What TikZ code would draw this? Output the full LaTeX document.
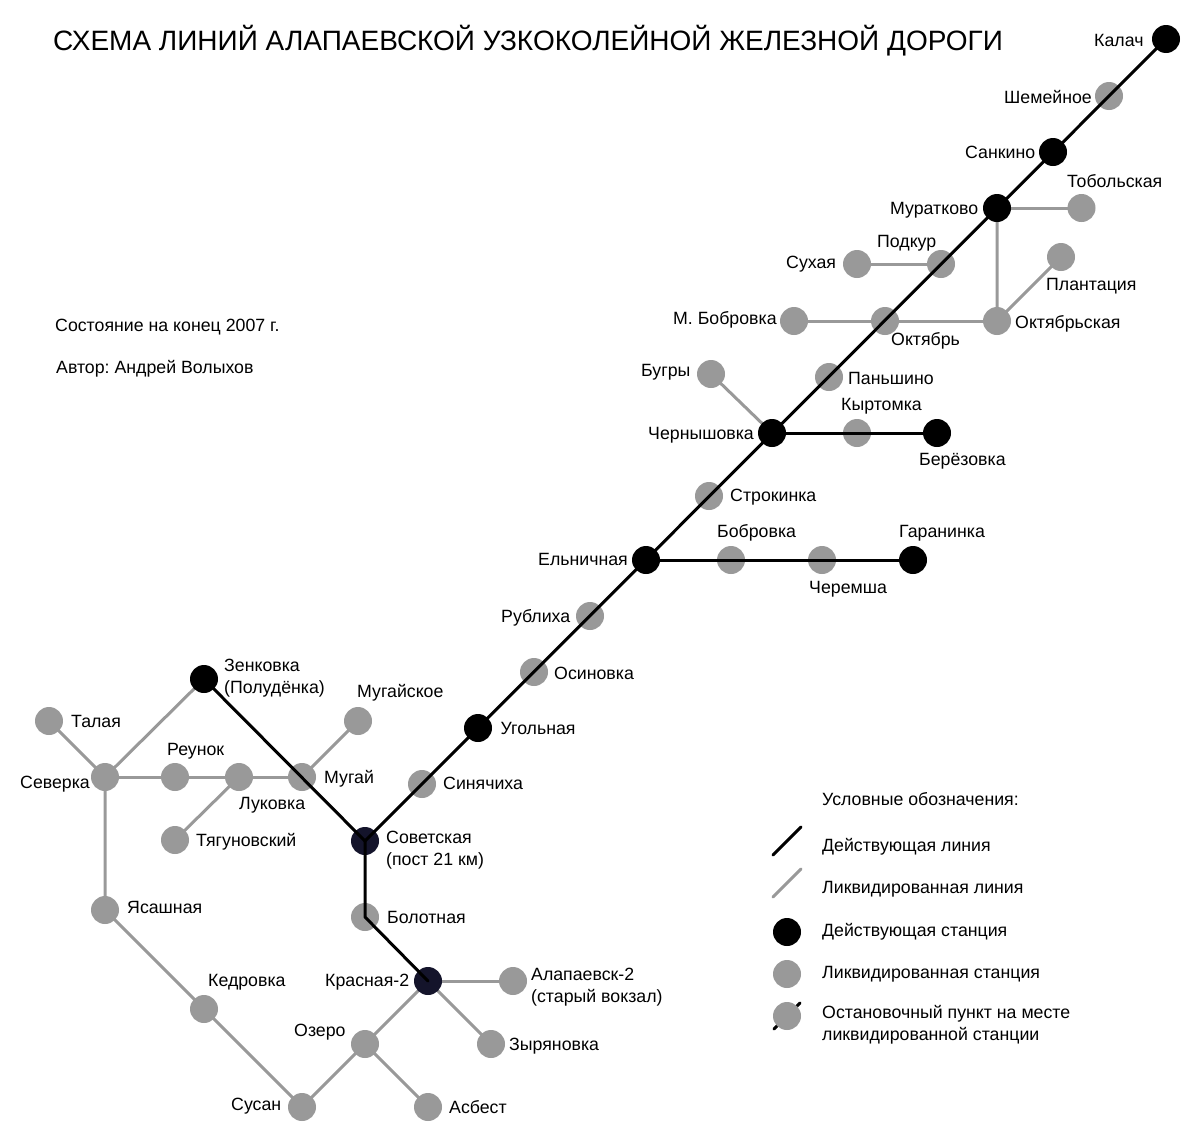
\documentclass[tikz,border=0pt]{standalone}
\usepackage{fontspec}
\setmainfont{Liberation Sans}
\frenchspacing
\pgfdeclarelayer{back}
\pgfdeclarelayer{front}
\pgfsetlayers{back,main,front}
\definecolor{closedgrey}{HTML}{999999}
\definecolor{junctiondark}{HTML}{14142B}
\tikzset{
  activestn/.style={circle,fill=black,inner sep=0pt,minimum size=14pt},
  closedstn/.style={circle,fill=closedgrey,inner sep=0pt,minimum size=14pt},
  junctionstn/.style={circle,fill=junctiondark,inner sep=0pt,minimum size=14pt},
  twolbl/.style={anchor=west,inner sep=0pt,align=left,xshift=-0.1pt,font=\fontsize{8.87pt}{11pt}\selectfont},
  lbl/.style={twolbl,text height=6.4pt,text depth=0pt},
  activeline/.style={draw=black,line width=1.5pt,line cap=round,line join=round},
  closedline/.style={draw=closedgrey,line width=1.5pt,line cap=round,line join=round},
}
\begin{document}
\begin{tikzpicture}[x=0.5pt,y=-0.5pt]
\useasboundingbox (0,0) rectangle (1200,1141);
% stations
\node[activestn] (kalach) at (1166,39) {};
\node[closedstn] (shemeinoe) at (1109,96) {};
\node[activestn] (sankino) at (1053,152) {};
\node[activestn] (muratkovo) at (997,208) {};
\node[closedstn] (tobolskaya) at (1081.5,208) {};
\node[closedstn] (podkur) at (941,264) {};
\node[closedstn] (sukhaya) at (857,264) {};
\node[closedstn] (plantaciya) at (1061,257) {};
\node[closedstn] (oktyabrskaya) at (997,321) {};
\node[closedstn] (oktyabr) at (885,321) {};
\node[closedstn] (mbobrovka) at (794,321) {};
\node[closedstn] (panshino) at (829,377) {};
\node[closedstn] (bugry) at (711,374) {};
\node[activestn] (chernyshovka) at (772,433) {};
\node[closedstn] (kyrtomka) at (857,433) {};
\node[activestn] (berezovka) at (937,433) {};
\node[closedstn] (strokinka) at (709,496) {};
\node[activestn] (elnichnaya) at (646,560) {};
\node[closedstn] (bobrovka) at (731,560) {};
\node[closedstn] (cheremsha) at (822,560) {};
\node[activestn] (garaninka) at (913,560) {};
\node[closedstn] (rublikha) at (590,616) {};
\node[closedstn] (osinovka) at (534,672) {};
\node[activestn] (ugolnaya) at (478,728) {};
\node[closedstn] (sinyachikha) at (422,784) {};
\node[junctionstn] (sovetskaya) at (365,841) {};
\node[closedstn] (bolotnaya) at (365,917) {};
\node[junctionstn] (krasnaya) at (428,981) {};
\node[closedstn] (alapaevsk) at (513,981) {};
\node[closedstn] (zyryanovka) at (491,1044) {};
\node[closedstn] (ozero) at (365,1044) {};
\node[closedstn] (asbest) at (428,1107) {};
\node[closedstn] (susan) at (302,1107) {};
\node[closedstn] (kedrovka) at (204,1009) {};
\node[closedstn] (yasashnaya) at (105,910) {};
\node[closedstn] (severka) at (105,777) {};
\node[closedstn] (talaya) at (49,721) {};
\node[closedstn] (reunok) at (175,777) {};
\node[closedstn] (lukovka) at (239,777) {};
\node[closedstn] (tyagunovskiy) at (175,840) {};
\node[closedstn] (mugay) at (302,777) {};
\node[closedstn] (mugayskoe) at (358,721) {};
\node[activestn] (zenkovka) at (204,679) {};
% legend marks
\coordinate (keyblacka) at (773,855);
\coordinate (keyblackb) at (801,827);
\coordinate (keygreya) at (773,897);
\coordinate (keygreyb) at (801,869);
\node[activestn] (keyactive) at (787,932) {};
\node[closedstn] (keyclosed) at (787,974) {};
\node[closedstn] (keyhalt) at (787,1016) {};
\coordinate (keyhalta) at (774,1029);
\coordinate (keyhaltb) at (800,1003);
% closed lines
\begin{pgfonlayer}{back}
\draw[closedline] (talaya.center) -- (severka.center);
\draw[closedline] (severka.center) -- (zenkovka.center);
\draw[closedline] (severka.center) -- (reunok.center) -- (lukovka.center) -- (mugay.center);
\draw[closedline] (lukovka.center) -- (tyagunovskiy.center);
\draw[closedline] (mugay.center) -- (mugayskoe.center);
\draw[closedline] (severka.center) -- (yasashnaya.center) -- (kedrovka.center) -- (susan.center) -- (ozero.center) -- (krasnaya.center);
\draw[closedline] (ozero.center) -- (asbest.center);
\draw[closedline] (krasnaya.center) -- (alapaevsk.center);
\draw[closedline] (krasnaya.center) -- (zyryanovka.center);
\draw[closedline] (bugry.center) -- (chernyshovka.center);
\draw[closedline] (sukhaya.center) -- (podkur.center);
\draw[closedline] (mbobrovka.center) -- (oktyabr.center) -- (oktyabrskaya.center);
\draw[closedline] (muratkovo.center) -- (oktyabrskaya.center) -- (plantaciya.center);
\draw[closedline] (muratkovo.center) -- (tobolskaya.center);
\draw[closedline] (keygreya) -- (keygreyb);
\draw[activeline] (keyhalta) -- (keyhaltb);
\end{pgfonlayer}
% active lines
\begin{pgfonlayer}{front}
\draw[activeline] (kalach.center) -- (sovetskaya.center);
\draw[activeline] (zenkovka.center) -- (sovetskaya.center);
\draw[activeline] (sovetskaya.center) -- (bolotnaya.center) -- (krasnaya.center);
\draw[activeline] (chernyshovka.center) -- (berezovka.center);
\draw[activeline] (elnichnaya.center) -- (garaninka.center);
\draw[activeline] (keyblacka) -- (keyblackb);
\end{pgfonlayer}
% labels
\node[twolbl,font=\fontsize{14pt}{17pt}\selectfont] (title) at (53,41) {СХЕМА ЛИНИЙ АЛАПАЕВСКОЙ УЗКОКОЛЕЙНОЙ ЖЕЛЕЗНОЙ ДОРОГИ};
\node[lbl] (statetext) at (55,325) {Состояние на конец 2007 г.};
\node[lbl] (authortext) at (56,367) {Автор: Андрей Волыхов};
\node[lbl] (kalachl) at (1094,40) {Калач};
\node[lbl] (shemeinoel) at (1004,97) {Шемейное};
\node[lbl] (sankinol) at (965,152) {Санкино};
\node[lbl] (muratkovol) at (890,208) {Муратково};
\node[lbl] (tobolskayal) at (1067,181) {Тобольская};
\node[lbl] (podkurl) at (877,241) {Подкур};
\node[lbl] (sukhayal) at (786,262) {Сухая};
\node[lbl] (plantaciyal) at (1046,284) {Плантация};
\node[lbl] (mbobrovkal) at (673,318) {М. Бобровка};
\node[lbl] (oktyabrskayal) at (1015,322) {Октябрьская};
\node[lbl] (oktyabrl) at (891,339) {Октябрь};
\node[lbl] (bugryl) at (641,370) {Бугры};
\node[lbl] (panshinol) at (848,378) {Паньшино};
\node[lbl] (kyrtomkal) at (841,404) {Кыртомка};
\node[lbl] (chernyshovkal) at (648,433) {Чернышовка};
\node[lbl] (berezovkal) at (919,459) {Берёзовка};
\node[lbl] (strokinkal) at (730,495) {Строкинка};
\node[lbl] (bobrovkal) at (717,531) {Бобровка};
\node[lbl] (garaninkal) at (899,531) {Гаранинка};
\node[lbl] (elnichnayal) at (538,559) {Ельничная};
\node[lbl] (cheremshal) at (809,587) {Черемша};
\node[lbl] (rublikhal) at (501,616) {Рублиха};
\node[lbl] (osinovkal) at (554,673) {Осиновка};
\node[twolbl] (zenkovkal) at (224,678) {Зенковка\\(Полудёнка)};
\node[lbl] (mugayskoel) at (357,691) {Мугайское};
\node[lbl] (talayal) at (71,721) {Талая};
\node[lbl] (ugolnayal) at (500.5,728) {Угольная};
\node[lbl] (reunokl) at (167,749) {Реунок};
\node[lbl] (mugayl) at (324,777) {Мугай};
\node[lbl] (severkal) at (20,782) {Северка};
\node[lbl] (sinyachikhal) at (443,783) {Синячиха};
\node[lbl] (lukovkal) at (239,803) {Луковка};
\node[lbl] (tyagunovskiyl) at (196,840) {Тягуновский};
\node[twolbl] (sovetskayal) at (386,850) {Советская\\(пост 21 км)};
\node[lbl] (yasashnayal) at (127,907) {Ясашная};
\node[lbl] (bolotnayal) at (387,917) {Болотная};
\node[lbl] (kedrovkal) at (208,980) {Кедровка};
\node[lbl] (krasnayal) at (325,980) {Красная-2};
\node[twolbl] (alapaevskl) at (531,987) {Алапаевск-2\\(старый вокзал)};
\node[lbl] (ozerol) at (294,1030) {Озеро};
\node[lbl] (zyryanovkal) at (509,1044) {Зыряновка};
\node[lbl] (susanl) at (231,1104) {Сусан};
\node[lbl] (asbestl) at (449,1107) {Асбест};
% legend texts
\node[lbl] (keytitle) at (822,799) {Условные обозначения:};
\node[lbl] (keyblackl) at (822,845) {Действующая линия};
\node[lbl] (keygreyl) at (822,887) {Ликвидированная линия};
\node[lbl] (keyactivel) at (822,930) {Действующая станция};
\node[lbl] (keyclosedl) at (822,972) {Ликвидированная станция};
\node[twolbl] (keyhaltl) at (822,1025) {Остановочный пункт на месте\\ликвидированной станции};
\end{tikzpicture}
\end{document}
